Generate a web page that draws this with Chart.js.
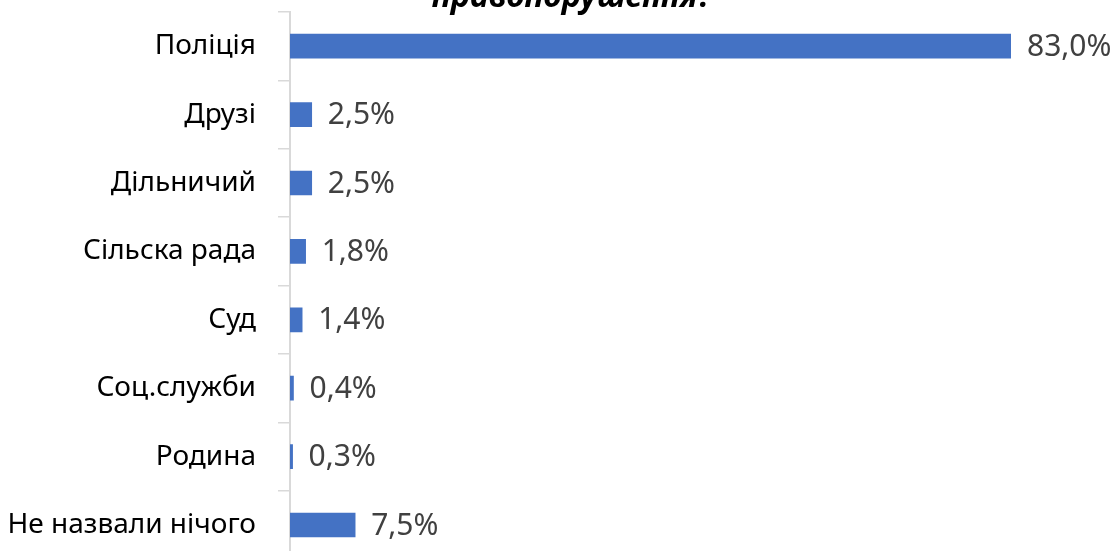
<!DOCTYPE html>
<html lang="uk">
  <head>
    <meta charset="UTF-8" />
    <title>правопорушення?</title>
    <style>
      body {
        margin: 0;
        overflow: hidden;
        background: #fff;
      }
      #chart {
        position: absolute;
        left: 0;
        top: -30px;
      }
    </style>
  </head>
  <body>
    <canvas id="chart" width="1115" height="628"></canvas>
    <script src="https://cdn.jsdelivr.net/npm/chart.js"></script>
    <script>
      // дані
      const categories = ["Поліція", "Друзі", "Дільничий", "Сільска рада", "Суд", "Соц.служби", "Родина", "Не назвали нічого"];
      const values = [83.0, 2.5, 2.5, 1.8, 1.4, 0.4, 0.3, 7.5];
      const titleText = "правопорушення?";

      // підпис значень праворуч від стовпчика
      const valueLabels = {
        id: "valueLabels",
        afterDatasetsDraw(chart) {
          const ctx = chart.ctx;
          const meta = chart.getDatasetMeta(0);
          ctx.save();
          ctx.font = "30px 'Noto Sans'";
          ctx.fillStyle = "#404040";
          ctx.textAlign = "left";
          ctx.textBaseline = "middle";
          meta.data.forEach((bar, i) => {
            ctx.fillText(values[i].toFixed(1).replace(".", ",") + "%", bar.x + 16, bar.y + 1);
          });
          ctx.restore();
        },
      };

      // заголовок (видно лише нижній рядок)
      const topTitle = {
        id: "topTitle",
        afterDraw(chart) {
          const ctx = chart.ctx;
          ctx.save();
          ctx.font = "italic bold 32px 'Noto Sans'";
          ctx.fillStyle = "#000";
          ctx.textAlign = "center";
          ctx.textBaseline = "alphabetic";
          ctx.fillText(titleText, 572, 37);
          ctx.restore();
        },
      };

      new Chart(document.getElementById("chart"), {
        type: "bar",
        data: {
          labels: categories,
          datasets: [
            {
              data: values,
              backgroundColor: "#4472c4",
              barThickness: 24,
            },
          ],
        },
        options: {
          indexAxis: "y",
          responsive: false,
          animation: false,
          layout: { padding: { top: 42, bottom: 13, right: 104, left: 0 } },
          plugins: {
            legend: { display: false },
            tooltip: { enabled: false },
          },
          scales: {
            x: { display: false, min: 0, max: 83 },
            y: {
              grid: {
                display: true,
                offset: true,
                drawOnChartArea: false,
                drawTicks: true,
                tickLength: 12,
                color: "#d9d9d9",
                lineWidth: 1.5,
              },
              border: { display: true, color: "#d9d9d9", width: 2 },
              ticks: {
                font: { family: "'Noto Sans'", size: 28 },
                color: "#000",
                padding: 22,
              },
              afterFit(scale) {
                scale.width = 290;
              },
            },
          },
        },
        plugins: [valueLabels, topTitle],
      });
    </script>
  </body>
</html>
